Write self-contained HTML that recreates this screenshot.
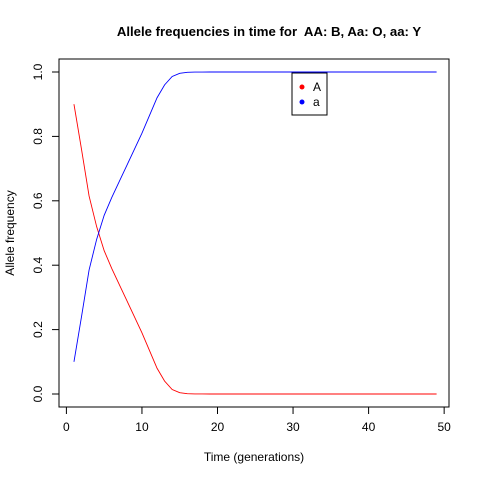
<!DOCTYPE html>
<html><head><meta charset="utf-8"><style>body{margin:0;background:#fff}svg{display:block;font-family:"Liberation Sans",sans-serif}</style></head>
<body>
<svg id="c" width="480" height="480"></svg>
<script>
const generations=[1,2,3,4,5,6,7,8,9,10,11,12,13,14,15,16,17,18,19,20,21,22,23,24,25,26,27,28,29,30,31,32,33,34,35,36,37,38,39,40,41,42,43,44,45,46,47,48,49];
const freqA=[0.9,0.76,0.615,0.52,0.445,0.39,0.34,0.29,0.24,0.19,0.135,0.08,0.04,0.014,0.004,0.001,0.0003,0.0001,0,0,0,0,0,0,0,0,0,0,0,0,0,0,0,0,0,0,0,0,0,0,0,0,0,0,0,0,0,0,0];
const freqa=freqA.map(v=>1-v);
const xTicks=[0,10,20,30,40,50];
const yTicks=[0,0.2,0.4,0.6,0.8,1.0];
const yTickLabels=["0.0","0.2","0.4","0.6","0.8","1.0"];
const NS="http://www.w3.org/2000/svg",svg=document.getElementById('c');
const X=v=>66.4+v*7.555, Y=v=>394-v*322;
function el(t,a,txt){const e=document.createElementNS(NS,t);for(const k in a)e.setAttribute(k,a[k]);if(txt!==undefined)e.textContent=txt;svg.appendChild(e);return e;}
let e;
e=el('text',{x:269,y:36,'text-anchor':'middle','font-size':13.2,'font-weight':'bold',style:'white-space:pre'},'Allele frequencies in time for  AA: B, Aa: O, aa: Y');


e=el('rect',{x:59,y:59,width:390,height:348,fill:'none',stroke:'#000'});


xTicks.forEach(t=>{
 e=el('line',{x1:X(t),x2:X(t),y1:407,y2:414,stroke:'#000'});
 
 
 e=el('text',{x:X(t),y:431,'text-anchor':'middle','font-size':12},t);
 
 
});
yTicks.forEach((t,i)=>{
 e=el('line',{x1:52,x2:59,y1:Y(t),y2:Y(t),stroke:'#000'});
 
 
 e=el('text',{x:42,y:Y(t),'text-anchor':'middle','font-size':12,transform:`rotate(-90 42 ${Y(t)})`},yTickLabels[i]);
 
 
});
e=el('text',{x:254,y:461,'text-anchor':'middle','font-size':12},'Time (generations)');


e=el('text',{x:14,y:233,'text-anchor':'middle','font-size':12,transform:'rotate(-90 14 233)'},'Allele frequency');


function line(vals,col,name){
 e=el('polyline',{points:vals.map((v,i)=>X(generations[i])+','+Y(v)).join(' '),fill:'none',stroke:col,'stroke-width':0.9});
 
 
}
line(freqA,'#ff0000','line-A');
line(freqa,'#0000ff','line-a');
e=el('rect',{x:292,y:73,width:35,height:42,fill:'#fff',stroke:'#000'});


[['A','#ff0000',87],['a','#0000ff',102]].forEach(([l,c,y])=>{
 e=el('circle',{cx:302,cy:y,r:2.5,fill:c});
 
 
 e=el('text',{x:313,y:y+4,'font-size':12},l);
 
 
});
</script>
</body></html>
